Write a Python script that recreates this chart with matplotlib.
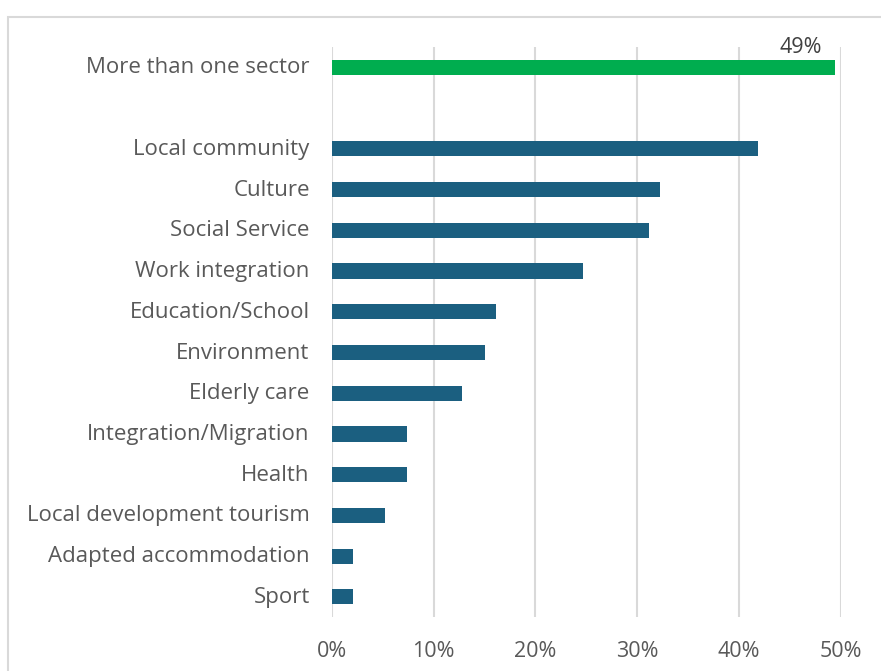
import matplotlib.pyplot as plt
from matplotlib.patches import Rectangle
from matplotlib.transforms import ScaledTranslation

# sectors, bottom to top; the summary bar sits one blank row above them
sectors = ["Sport", "Adapted accommodation", "Local development tourism", "Health",
           "Integration/Migration", "Elderly care", "Environment", "Education/School",
           "Work integration", "Social Service", "Culture", "Local community"]
shares = [2.1, 2.1, 5.2, 7.4, 7.4, 12.8, 15.0, 16.1, 24.7, 31.2, 32.2, 41.9]

top_label = "More than one sector"
top_share = 49.4

ticks = [0, 10, 20, 30, 40, 50]

text_grey = "#595959"
blue = "#1B5F80"
green = "#00AD4F"

plt.rcParams['font.family'] = ['Open Sans', 'DejaVu Sans']

fig = plt.figure(figsize=(8.81, 6.71), dpi=100)
ax = fig.add_axes([0.3768, 0.080, 0.5775, 0.850])

pos = list(range(len(sectors)))
top_pos = len(sectors) + 1

ax.barh(pos, shares, height=0.37, color=blue, zorder=3)
ax.barh([top_pos], [top_share], height=0.37, color=green, zorder=3)
ax.text(top_share - 1.2, top_pos + 0.24, f"{top_share:.0f}%", ha="right", va="bottom",
        fontsize=15.5, color="#404040")

ax.set_yticks(pos + [top_pos])
ax.set_yticklabels(sectors + [top_label])
ax.set_ylim(-0.5, top_pos + 0.5)
ax.set_xlim(0, 50)
ax.set_xticks(ticks)
ax.set_xticklabels([f"{t}%" for t in ticks])

ax.tick_params(axis="y", length=0, pad=16, labelsize=16, labelcolor=text_grey)
ax.tick_params(axis="x", length=0, pad=17, labelsize=15.5, labelcolor=text_grey)
# nudge category labels up slightly
for lab in ax.get_yticklabels():
    lab.set_transform(lab.get_transform() + ScaledTranslation(0, 2 / 100, fig.dpi_scale_trans))
ax.grid(axis="x", color="#D9D9D9", linewidth=1.5, zorder=0)
for side in ax.spines.values():
    side.set_visible(False)

# chart frame, partly running off the right and bottom
fig.patches.append(Rectangle((8 / 881, -0.05), 1.0, 1 - 17 / 671 + 0.05,
                             transform=fig.transFigure, fill=False,
                             edgecolor="#D9D9D9", linewidth=1.5))

fig.savefig("out.png")
